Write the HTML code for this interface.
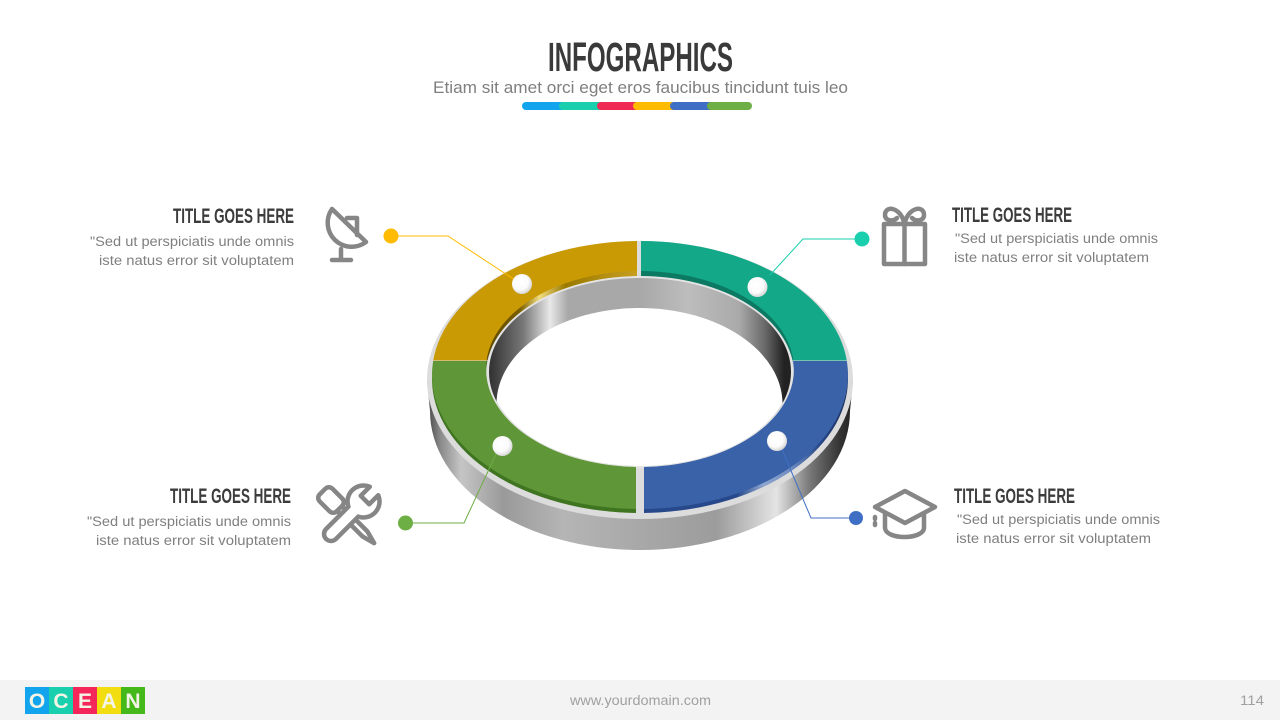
<!DOCTYPE html>
<html><head><meta charset="utf-8"><style>
html,body{margin:0;padding:0;background:#fff;width:1280px;height:720px;overflow:hidden}
svg{display:block}
text{font-family:"Liberation Sans",sans-serif}
.t{font-weight:bold;font-size:21px;fill:#3c3c3c}
.b{font-size:13.5px;fill:#7f7f7f}
.i{fill:none;stroke:#868686;stroke-width:4.5;stroke-linejoin:round;stroke-linecap:round}
</style></head><body>
<svg width="1280" height="720" viewBox="0 0 1280 720" xmlns="http://www.w3.org/2000/svg">
<defs>
<linearGradient id="mo" gradientUnits="userSpaceOnUse" x1="427" y1="0" x2="853" y2="0">
<stop offset="0" stop-color="#444"/><stop offset=".03" stop-color="#888"/><stop offset=".08" stop-color="#c5c5c5"/><stop offset=".18" stop-color="#9a9a9a"/><stop offset=".32" stop-color="#b5b5b5"/><stop offset=".5" stop-color="#a8a8a8"/><stop offset=".68" stop-color="#9c9c9c"/><stop offset=".82" stop-color="#e4e4e4"/><stop offset=".9" stop-color="#777"/><stop offset=".97" stop-color="#333"/><stop offset="1" stop-color="#222"/>
</linearGradient>
<linearGradient id="mi" gradientUnits="userSpaceOnUse" x1="490" y1="0" x2="790" y2="0">
<stop offset="0" stop-color="#333"/><stop offset=".11" stop-color="#777"/><stop offset=".2" stop-color="#e8e8e8"/><stop offset=".26" stop-color="#a8a8a8"/><stop offset=".5" stop-color="#a8a8a8"/><stop offset=".66" stop-color="#bdbdbd"/><stop offset=".83" stop-color="#aaa"/><stop offset=".92" stop-color="#666"/><stop offset=".98" stop-color="#222"/>
</linearGradient>
<linearGradient id="ys" gradientUnits="userSpaceOnUse" x1="490" y1="0" x2="640" y2="0">
<stop offset="0" stop-color="#5f4a00"/><stop offset=".2" stop-color="#7a6000"/><stop offset=".33" stop-color="#f0dc80"/><stop offset=".5" stop-color="#9a7a00"/><stop offset="1" stop-color="#c9a020"/>
</linearGradient>
<linearGradient id="bs" gradientUnits="userSpaceOnUse" x1="644" y1="0" x2="850" y2="0">
<stop offset="0" stop-color="#27488a"/><stop offset=".45" stop-color="#27488a"/><stop offset=".58" stop-color="#8fa6cf"/><stop offset=".72" stop-color="#6d8bc0"/><stop offset=".85" stop-color="#27488a"/><stop offset="1" stop-color="#1d2f55"/>
</linearGradient>
<radialGradient id="pin" cx=".42" cy=".4" r=".65">
<stop offset="0" stop-color="#fff"/><stop offset=".6" stop-color="#fbfbfb"/><stop offset="1" stop-color="#cfcfcf"/>
</radialGradient>
<clipPath id="hole"><ellipse cx="640" cy="372" rx="151" ry="94"/></clipPath>
<clipPath id="q1"><rect x="420" y="230" width="217" height="130.5"/></clipPath>
<clipPath id="q2"><rect x="641" y="230" width="220" height="130.5"/></clipPath>
<clipPath id="q3"><rect x="420" y="361" width="216" height="170"/></clipPath>
<clipPath id="q4"><rect x="644" y="361" width="220" height="170"/></clipPath>
<path id="ringTop" fill-rule="evenodd" d="M432 375a208 134 0 1 0 416 0a208 134 0 1 0 -416 0ZM486 369a154 98 0 1 0 308 0a154 98 0 1 0 -308 0Z"/>
<path id="ringSide" fill-rule="evenodd" d="M432 379a208 134 0 1 0 416 0a208 134 0 1 0 -416 0ZM486 374a154 98 0 1 0 308 0a154 98 0 1 0 -308 0Z"/>
</defs>

<!-- Header -->
<text x="548" y="71" font-size="41" font-weight="bold" fill="#3a3a3a" textLength="185" lengthAdjust="spacingAndGlyphs">INFOGRAPHICS</text>
<text x="433" y="93" font-size="16.5" fill="#7f7f7f" textLength="415" lengthAdjust="spacingAndGlyphs">Etiam sit amet orci eget eros faucibus tincidunt tuis leo</text>
<rect x="522" y="102" width="45" height="8" rx="4" fill="#12A5EE"/>
<rect x="559" y="102" width="45" height="8" rx="4" fill="#1ACFAE"/>
<rect x="597" y="102" width="45" height="8" rx="4" fill="#EE2A55"/>
<rect x="633" y="102" width="45" height="8" rx="4" fill="#FFBB00"/>
<rect x="670" y="102" width="45" height="8" rx="4" fill="#3F6FC4"/>
<rect x="707" y="102" width="45" height="8" rx="4" fill="#6DAE45"/>

<!-- Ring body -->
<path d="M427 380L430 411A210 139 0 0 0 850 411L853 380Z" fill="url(#mo)"/>
<ellipse cx="640" cy="380" rx="213" ry="139" fill="#dcdcdc"/>
<ellipse cx="640" cy="372" rx="153" ry="96" fill="#e4e4e4"/>
<ellipse cx="640" cy="372" rx="151" ry="94" fill="url(#mi)"/>
<ellipse cx="639.500" cy="404" rx="143" ry="96" fill="#fff" clip-path="url(#hole)"/>

<!-- Coloured segments: side band -->
<use href="#ringSide" fill="url(#ys)" clip-path="url(#q1)"/>
<use href="#ringSide" fill="#0c7a63" clip-path="url(#q2)"/>
<use href="#ringSide" fill="#3f7420" clip-path="url(#q3)"/>
<use href="#ringSide" fill="url(#bs)" clip-path="url(#q4)"/>
<!-- Coloured segments: top -->
<use href="#ringTop" fill="#CA9A05" clip-path="url(#q1)"/>
<use href="#ringTop" fill="#13A888" clip-path="url(#q2)"/>
<use href="#ringTop" fill="#5F9637" clip-path="url(#q3)"/>
<use href="#ringTop" fill="#3A62A8" clip-path="url(#q4)"/>

<!-- Connectors -->
<g fill="none" stroke-width="1">
<path d="M391 236H448L515 280" stroke="#FFBB00"/>
<path d="M862 239H803L770 275" stroke="#1ACFAE"/>
<path d="M856 518H811L781 447" stroke="#3F6FC4"/>
<path d="M405 523H464L497 452" stroke="#6DAE45"/>
</g>
<circle cx="391" cy="236" r="7.5" fill="#FFBB00"/>
<circle cx="862" cy="239" r="7.5" fill="#1ACFAE"/>
<circle cx="856" cy="518" r="7" fill="#3F6FC4"/>
<circle cx="405.500" cy="523" r="7.500" fill="#6DAE45"/>
<circle cx="522" cy="284" r="10" fill="url(#pin)"/>
<circle cx="757.500" cy="287" r="10" fill="url(#pin)"/>
<circle cx="502.500" cy="446" r="10" fill="url(#pin)"/>
<circle cx="777" cy="441" r="10" fill="url(#pin)"/>

<!-- Labels -->
<text class="t" x="173" y="223" textLength="121" lengthAdjust="spacingAndGlyphs">TITLE GOES HERE</text>
<text class="b" x="90" y="246" textLength="204" lengthAdjust="spacingAndGlyphs">"Sed ut perspiciatis unde omnis</text>
<text class="b" x="99" y="265" textLength="195" lengthAdjust="spacingAndGlyphs">iste natus error sit voluptatem</text>

<text class="t" x="170" y="503" textLength="121" lengthAdjust="spacingAndGlyphs">TITLE GOES HERE</text>
<text class="b" x="87" y="526" textLength="204" lengthAdjust="spacingAndGlyphs">"Sed ut perspiciatis unde omnis</text>
<text class="b" x="96" y="545" textLength="195" lengthAdjust="spacingAndGlyphs">iste natus error sit voluptatem</text>

<text class="t" x="952" y="222" textLength="120" lengthAdjust="spacingAndGlyphs">TITLE GOES HERE</text>
<text class="b" x="955" y="243" textLength="203" lengthAdjust="spacingAndGlyphs">"Sed ut perspiciatis unde omnis</text>
<text class="b" x="954" y="262" textLength="195" lengthAdjust="spacingAndGlyphs">iste natus error sit voluptatem</text>

<text class="t" x="954" y="503" textLength="121" lengthAdjust="spacingAndGlyphs">TITLE GOES HERE</text>
<text class="b" x="957" y="524" textLength="203" lengthAdjust="spacingAndGlyphs">"Sed ut perspiciatis unde omnis</text>
<text class="b" x="956" y="543" textLength="195" lengthAdjust="spacingAndGlyphs">iste natus error sit voluptatem</text>

<!-- Dish icon -->
<g class="i">
<path d="M332 209A24 24 0 0 0 366 242Z"/>
<path d="M347 218H357V235"/>
<path d="M341 249V260M332 260H351"/>
</g>
<!-- Gift icon -->
<g class="i">
<rect x="884" y="224" width="41" height="40"/>
<path d="M904.500 224V264"/>
<path d="M904 222C900 207 885 205 885 215C885 221 893 222 897 218"/>
<path d="M905 222C909 207 924 205 924 215C924 221 916 222 912 218"/>
</g>
<!-- Tools icon -->
<g class="i">
<g transform="translate(348 517) rotate(-45)">
<rect x="-9" y="-36" width="18" height="24" rx="5"/>
<path d="M-3.500 -12V24L0 37L3.500 24V-12"/>
</g>
<g transform="translate(348 517) rotate(45)">
<path fill="#fff" d="M-7 24V-7.600A16 16 0 0 1 -6 -36.800V-24H6V-36.800A16 16 0 0 1 7 -7.600V24A7 7 0 0 1 -7 24Z"/>
</g>
</g>
<!-- Cap icon -->
<g class="i">
<path d="M905 491L935 507L905 523L875 507Z"/>
<path d="M885 514V528C886 540 923 540 924 528V514"/>
<path d="M875 517V519M875 523V525"/>
</g>

<!-- Footer -->
<rect x="0" y="680" width="1280" height="40" fill="#f3f3f3"/>
<rect x="25" y="687" width="24" height="27" fill="#12A5EE"/>
<rect x="49" y="687" width="24" height="27" fill="#1ACFAE"/>
<rect x="73" y="687" width="24" height="27" fill="#F5275A"/>
<rect x="97" y="687" width="24" height="27" fill="#F2DD10"/>
<rect x="121" y="687" width="24" height="27" fill="#45B81A"/>
<g font-size="21" font-weight="bold" fill="#f4f4e6" text-anchor="middle">
<text x="37" y="708">O</text><text x="61" y="708">C</text><text x="85" y="708">E</text><text x="109" y="708">A</text><text x="133" y="708">N</text>
</g>
<text x="570" y="705" font-size="13.500" fill="#a0a0a0" textLength="141" lengthAdjust="spacingAndGlyphs">www.yourdomain.com</text>
<text x="1240" y="705" font-size="14" fill="#a0a0a0" textLength="24" lengthAdjust="spacingAndGlyphs">114</text>
</svg>
</body></html>
